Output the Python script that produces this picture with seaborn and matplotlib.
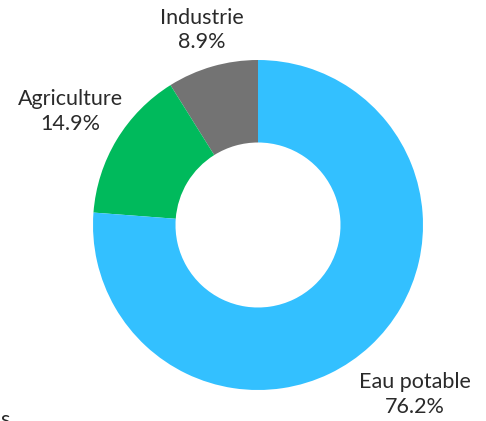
import numpy as np
import matplotlib
matplotlib.use("Agg")
import matplotlib.pyplot as plt
import seaborn as sns

sns.set_theme(style="white")
plt.rcParams['font.family'] = ['Lato', 'DejaVu Sans']

categories = ['Industrie', 'Agriculture', 'Eau potable']
shares = [8.9, 14.9, 76.2]
colors = ['#737373', '#00BA5C', '#33C0FF']
label_dist = [1.23, 1.33, 1.40]

W, H = 486, 421
cx, cy, r = 258, 225, 165

fig = plt.figure(figsize=(W / 100, H / 100), dpi=100)
ax = fig.add_axes([0, 0, 1, 1])
wedges, _ = ax.pie(shares, colors=colors, startangle=90, counterclock=True,
                   radius=1, wedgeprops=dict(width=0.5, linewidth=0))

for w, name, val, d in zip(wedges, categories, shares, label_dist):
    mid = np.deg2rad((w.theta1 + w.theta2) / 2)
    ax.text(d * np.cos(mid), d * np.sin(mid), f"{name}\n{val}%",
            ha='center', va='center', fontsize=15.5, color='#2a2a2a',
            linespacing=1.3)

ax.set_xlim(-cx / r, (W - cx) / r)
ax.set_ylim((cy - H) / r, cy / r)
ax.set_aspect('equal')
ax.axis('off')

# cut-off fragment in the corner (partly outside the image, as in the source)
fig.text(0.0, -0.022, 's', fontsize=15.5, color='#2a2a2a',
         ha='left', va='bottom')

fig.savefig('out.png', dpi=100)
